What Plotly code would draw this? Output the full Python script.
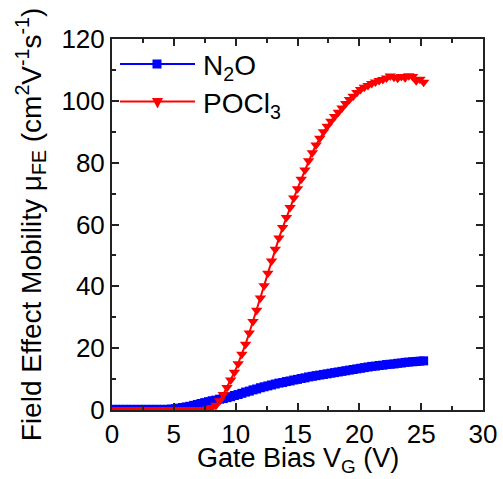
import plotly.graph_objects as go

# Gate bias sweep (V)
vg = [0.0, 0.3, 0.6, 0.9, 1.2, 1.5, 1.8, 2.1, 2.4, 2.7, 3.0, 3.3, 3.6, 3.9, 4.2, 4.5,
      4.8, 5.1, 5.4, 5.7, 6.0, 6.3, 6.6, 6.9, 7.2, 7.5, 7.8, 8.1, 8.4, 8.7, 9.0, 9.3,
      9.6, 9.9, 10.2, 10.5, 10.8, 11.1, 11.4, 11.7, 12.0, 12.3, 12.6, 12.9, 13.2, 13.5,
      13.8, 14.1, 14.4, 14.7, 15.0, 15.3, 15.6, 15.9, 16.2, 16.5, 16.8, 17.1, 17.4, 17.7,
      18.0, 18.3, 18.6, 18.9, 19.2, 19.5, 19.8, 20.1, 20.4, 20.7, 21.0, 21.3, 21.6, 21.9,
      22.2, 22.5, 22.8, 23.1, 23.4, 23.7, 24.0, 24.3, 24.6, 24.9, 25.2]

# Field effect mobility, N2O sample (cm^2 V^-1 s^-1)
mu_n2o = [0.2, 0.2, 0.2, 0.2, 0.2, 0.2, 0.2, 0.2, 0.2, 0.2, 0.2, 0.2, 0.2, 0.2, 0.2, 0.2,
          0.3, 0.4, 0.6, 0.8, 1.0, 1.2, 1.5, 1.8, 2.1, 2.4, 2.7, 3.0, 3.2, 3.5, 3.7, 4.0,
          4.3, 4.7, 5.0, 5.4, 5.8, 6.1, 6.5, 6.8, 7.2, 7.5, 7.8, 8.1, 8.4, 8.7,
          8.9, 9.2, 9.4, 9.7, 9.9, 10.2, 10.4, 10.7, 10.9, 11.1, 11.3, 11.5, 11.7, 11.9,
          12.1, 12.3, 12.5, 12.7, 12.9, 13.1, 13.3, 13.5, 13.7, 13.9, 14.1, 14.2, 14.4, 14.5,
          14.7, 14.8, 14.9, 15.1, 15.2, 15.4, 15.5, 15.6, 15.7, 15.8, 15.9]

# Field effect mobility, POCl3 sample (cm^2 V^-1 s^-1)
mu_pocl3 = [0.1, 0.1, 0.1, 0.1, 0.1, 0.1, 0.1, 0.1, 0.1, 0.1, 0.1, 0.1, 0.1, 0.1, 0.1, 0.1,
            0.1, 0.1, 0.1, 0.1, 0.1, 0.1, 0.1, 0.1, 0.1, 0.2, 0.4, 0.8, 1.5, 3.0, 5.0, 7.3,
            9.7, 12.2, 15.0, 18.0, 21.3, 24.9, 28.6, 32.3, 36.2, 40.2, 44.2, 48.2, 52.0, 55.6,
            59.0, 62.3, 65.5, 68.6, 71.6, 74.6, 77.6, 80.6, 83.2, 85.7, 87.9, 90.0, 91.8, 93.4,
            94.9, 96.3, 97.7, 99.1, 100.4, 101.5, 102.7, 103.7, 104.4, 105.0, 105.6, 106.1, 106.6, 106.9,
            107.4, 108.0, 107.6, 107.3, 107.9, 107.5, 108.1, 107.9, 106.5, 107.0, 106.0]

series_names = ["N<sub>2</sub>O", "POCl<sub>3</sub>"]
series_colors = ["#0000FF", "#FF0000"]
x_title = "Gate Bias V<sub>G</sub> (V)"
y_title = "Field Effect Mobility μ<sub>FE</sub> (cm<sup>2</sup>V<sup>-1</sup>s<sup>-1</sup>)"

FONT = "Arial, Liberation Sans, sans-serif"
AX = "#222222"

fig = go.Figure()
fig.add_trace(go.Scatter(
    x=vg, y=mu_n2o, mode="lines+markers", name=series_names[0], showlegend=False,
    line=dict(color=series_colors[0], width=2),
    marker=dict(symbol="square", size=9, color=series_colors[0]),
))
fig.add_trace(go.Scatter(
    x=vg, y=mu_pocl3, mode="lines+markers", name=series_names[1], showlegend=False,
    line=dict(color=series_colors[1], width=2),
    marker=dict(symbol="triangle-down", size=10, color=series_colors[1]),
))

axis_common = dict(
    showline=True, linecolor=AX, linewidth=2, mirror="allticks",
    ticks="inside", ticklen=7, tickwidth=1.5, tickcolor=AX,
    showgrid=False, zeroline=False, automargin=False,
    tickfont=dict(family=FONT, size=26, color="black"),
)

fig.update_xaxes(
    range=[0, 30], tick0=0, dtick=5,
    minor=dict(ticks="inside", ticklen=4, tickwidth=1.5, tickcolor=AX, dtick=2.5, showgrid=False),
    **axis_common,
)
fig.update_yaxes(
    range=[0, 120], tick0=0, dtick=20,
    minor=dict(ticks="inside", ticklen=4, tickwidth=1.5, tickcolor=AX, dtick=10, showgrid=False),
    title=dict(text=y_title, font=dict(family=FONT, size=28, color="black"), standoff=12),
    **axis_common,
)

# Legend drawn as a small key in the upper-left corner (long line samples as in the reference)
L = 112.0
W = 371.0
H = 371.0
T = 410.0
def px(xp):
    return (xp - L) / W
def py(yp):
    return (T - yp) / H

shapes = []
annotations = []
key_rows = [64.0, 101.5]
for i, (nm, col) in enumerate(zip(series_names, series_colors)):
    yy = py(key_rows[i])
    shapes.append(dict(type="line", xref="paper", yref="paper",
                       x0=px(120), x1=px(195), y0=yy, y1=yy,
                       line=dict(color=col, width=2)))
    if i == 0:
        shapes.append(dict(type="rect", xref="paper", yref="paper",
                           xsizemode="pixel", ysizemode="pixel",
                           xanchor=px(157), yanchor=yy,
                           x0=-4.5, x1=4.5, y0=-4.5, y1=4.5,
                           fillcolor=col, line=dict(width=0)))
    else:
        shapes.append(dict(type="path", xref="paper", yref="paper",
                           xsizemode="pixel", ysizemode="pixel",
                           xanchor=px(157.5), yanchor=yy,
                           path="M -5.5 3.5 L 5.5 3.5 L 0 -7 Z",
                           fillcolor=col, line=dict(width=0)))
    annotations.append(dict(text=nm, xref="paper", yref="paper",
                            x=px(201), y=yy, xanchor="left", yanchor="middle",
                            yshift=-4,
                            showarrow=False, font=dict(family=FONT, size=28, color="black")))

# x-axis title placed just below the tick labels
annotations.append(dict(text=x_title, xref="paper", yref="paper",
                        x=0.5, y=0, xanchor="center", yanchor="top", yshift=-31,
                        showarrow=False, font=dict(family=FONT, size=27, color="black")))

fig.update_layout(
    width=503, height=479,
    margin=dict(l=112, r=20, t=39, b=69),
    paper_bgcolor="white", plot_bgcolor="white",
    showlegend=False,
    shapes=shapes,
    annotations=annotations,
)

fig.write_html("out.html")
